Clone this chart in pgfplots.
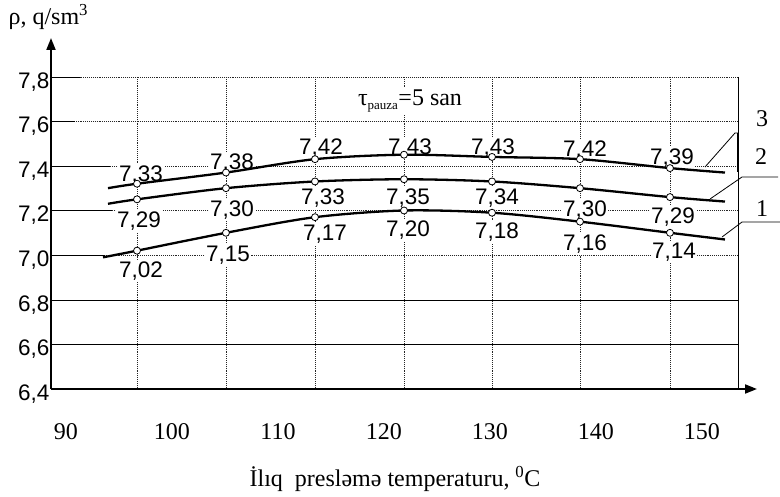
\documentclass[border=0pt]{standalone}
\usepackage{fontspec}
\setmainfont{Liberation Serif}
\newfontfamily\sansf{Liberation Sans}
\usepackage{pgfplots}
\pgfplotsset{compat=1.18}
\usetikzlibrary{arrows.meta}

\tikzset{
  gridl/.style={densely dotted, line width=0.9pt, black!85},
  lab/.style={font=\sansf\fontsize{22.5}{22.5}\selectfont, fill=white, inner sep=1.5pt},
  big/.style={font=\fontsize{24}{24}\selectfont},
}

\begin{document}
\begin{tikzpicture}[x=1pt,y=1pt]
\useasboundingbox (0,0) rectangle (780,-497);

% grid, drawn in picture pixels
\foreach \gx in {137,226,315,404,492,580,670}
  \draw[gridl] (\gx,-77) -- (\gx,-389);
\foreach \gy in {77,121.6,166.2,210.8,255.5,300.1,344.7}
  \draw[gridl] (51,-\gy) -- (738,-\gy);
\draw[line width=0.8pt] (51,-77) -- (80,-77);
\draw[line width=0.8pt] (51,-121.6) -- (75,-121.6);
\draw[line width=0.8pt] (51,-166.2) -- (110,-166.2);
\draw[line width=0.8pt] (51,-210.8) -- (112,-210.8);
\draw[line width=0.8pt] (51,-255.5) -- (105,-255.5);
\draw[line width=0.8pt] (51,-300.1) -- (738,-300.1);
\draw[line width=0.8pt] (51,-344.7) -- (738,-344.7);
\draw[line width=0.9pt] (738,-77) -- (738,-389);

% value labels
\node[lab] at (141,-175) {7,33};
\node[lab] at (232,-163) {7,38};
\node[lab] at (321,-148) {7,42};
\node[lab] at (410,-148) {7,43};
\node[lab] at (493,-148) {7,43};
\node[lab] at (585,-150) {7,42};
\node[lab] at (672,-158) {7,39};

\node[lab] at (139,-221) {7,29};
\node[lab] at (232,-210) {7,30};
\node[lab] at (323,-198) {7,33};
\node[lab] at (408,-198) {7,35};
\node[lab] at (497,-198) {7,34};
\node[lab] at (585,-210) {7,30};
\node[lab] at (673,-217) {7,29};

\node[lab] at (141,-271) {7,02};
\node[lab] at (228,-255) {7,15};
\node[lab] at (325,-234) {7,17};
\node[lab] at (408,-230) {7,20};
\node[lab] at (497,-232) {7,18};
\node[lab] at (585,-244) {7,16};
\node[lab] at (674,-252) {7,14};

\node[big, fill=white, inner sep=3pt] at (410,-101) {τ\textsubscript{\fontsize{13}{13}\selectfont pauza}=5 san};

\begin{axis}[
  at={(51pt,-389pt)}, anchor=south west,
  scale only axis, width=706pt, height=351pt,
  xmin=88.585, xmax=155.19, ymin=6.4, ymax=7.973,
  clip=false,
  axis x line=bottom, axis y line=left,
  axis line style={line width=1.8pt},
  x axis line style={-{Triangle[length=12pt,width=9pt]}},
  y axis line style={-{Triangle[length=12pt,width=9pt]}},
  xtick={90,100,110,120,130,140,150},
  ytick={6.4,6.6,6.8,7.0,7.2,7.4,7.6,7.8},
  major tick length=0pt,
  /pgf/number format/assume math mode=true,
  xticklabel style={font=\fontsize{24}{24}\selectfont, yshift=-31pt},
  yticklabel style={font=\sansf\fontsize{22.5}{22.5}\selectfont, yshift=-5pt, xshift=2pt,
    /pgf/number format/.cd, fixed, fixed zerofill, precision=1, use comma},
]
% curve 3
\addplot[black, line width=2.3pt, smooth, mark=*, mark indices={2,3,4,5,6,7,8},
  mark size=3.5pt, mark options={fill=white, line width=0.8pt}]
  coordinates {(93.96,7.30) (96.70,7.32) (105.09,7.37) (113.49,7.43) (121.89,7.45)
               (130.19,7.44) (138.49,7.43) (146.98,7.39) (152.17,7.37)};
% curve 2
\addplot[black, line width=2.3pt, smooth, mark=*, mark indices={2,3,4,5,6,7,8},
  mark size=3.5pt, mark options={fill=white, line width=0.8pt}]
  coordinates {(93.96,7.23) (96.70,7.25) (105.09,7.30) (113.49,7.33) (121.89,7.34)
               (130.19,7.33) (138.49,7.30) (146.98,7.26) (152.17,7.24)};
% curve 1
\addplot[black, line width=2.3pt, smooth, mark=*, mark indices={2,3,4,5,6,7,8},
  mark size=3.5pt, mark options={fill=white, line width=0.8pt}]
  coordinates {(93.49,6.99) (96.70,7.02) (105.09,7.10) (113.49,7.17) (121.89,7.20)
               (130.19,7.19) (138.49,7.15) (146.98,7.10) (152.17,7.07)};
\end{axis}

% axis captions
\node[big, anchor=west] at (5,-17) {ρ, q/sm\textsuperscript{3}};
\node[big] at (395,-479) {İlıq\ \ presləmə temperaturu, \textsuperscript{0}C};

% curve numbers and leaders
\draw[line width=0.8pt] (705,-167) -- (735,-133) -- (738,-133);
\draw[line width=2pt] (738,-133) -- (738,-172);
\draw[line width=0.8pt] (710,-199) -- (742,-177) -- (778,-177);
\draw[line width=0.8pt] (722,-237) -- (742,-222) -- (780,-222);
\node[big] at (762,-119) {3};
\node[big] at (761,-157) {2};
\node[big] at (762,-209) {1};
\end{tikzpicture}
\end{document}
